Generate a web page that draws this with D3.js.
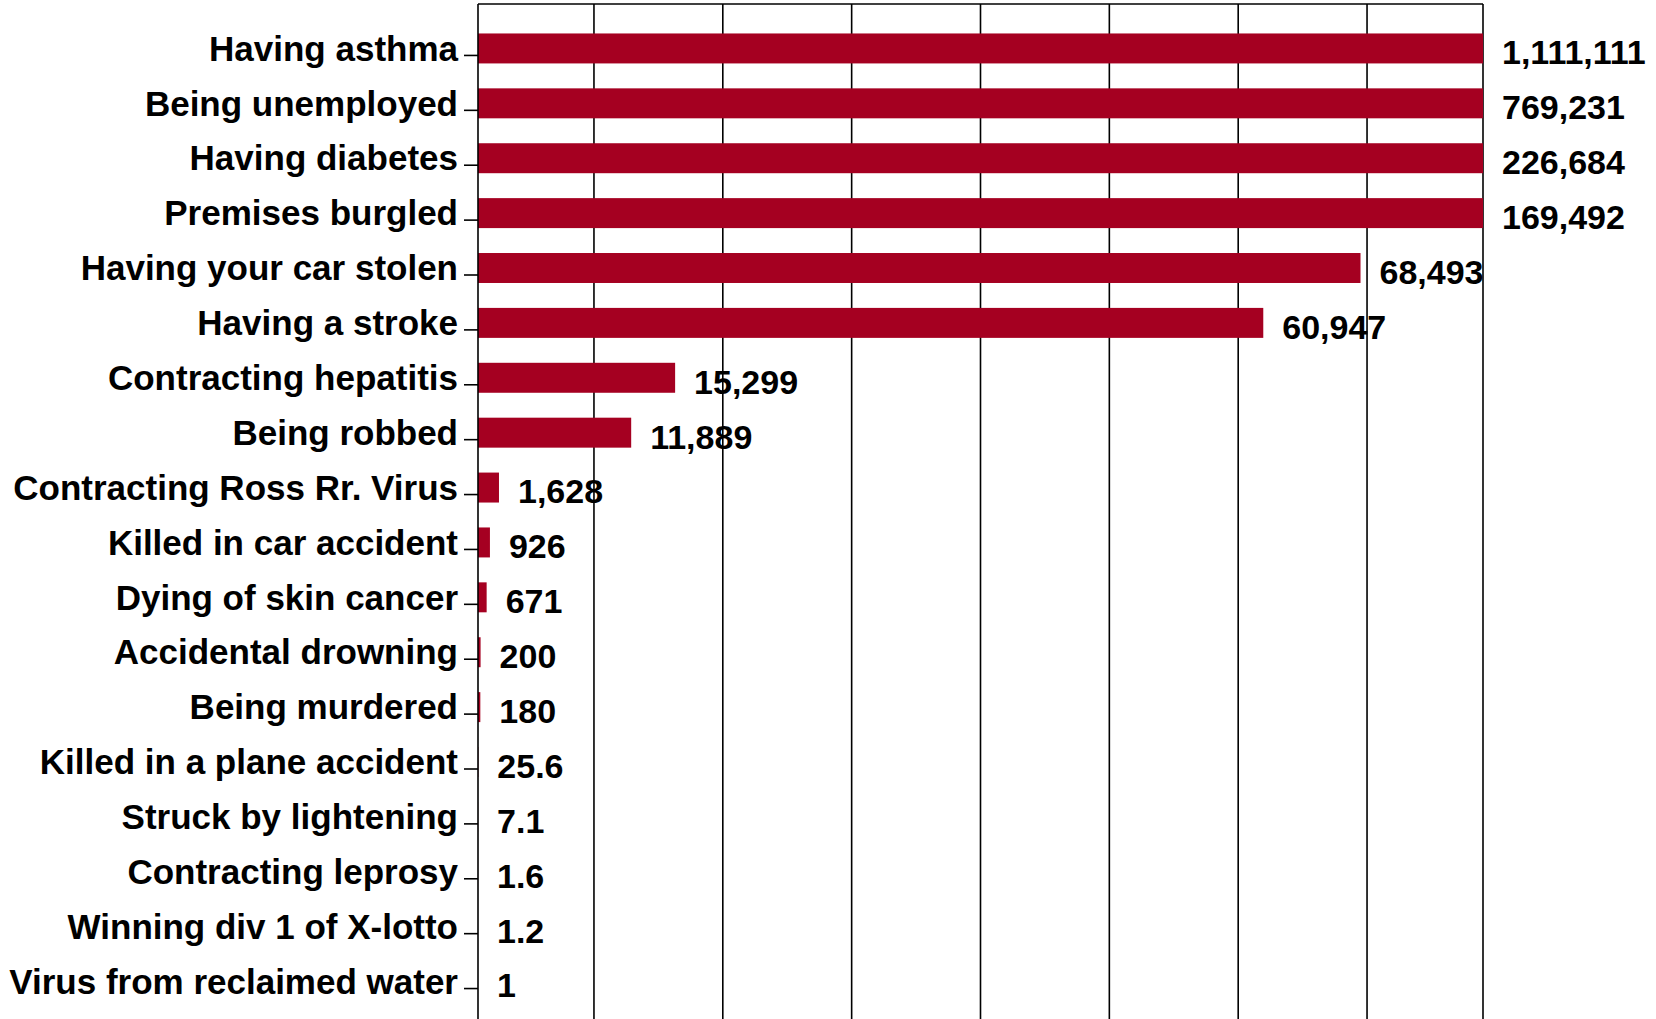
<!DOCTYPE html>
<html>
<head>
<meta charset="utf-8">
<script src="https://cdn.jsdelivr.net/npm/d3@7/dist/d3.min.js"></script>
<style>
  html, body { margin: 0; padding: 0; background: #ffffff; overflow: hidden; }
  svg { display: block; }
  text { font-family: "Liberation Sans", Arial, sans-serif; font-weight: bold; fill: #000; }
</style>
</head>
<body>
<svg id="chart" width="1656" height="1019"></svg>
<script>
const categories = [
  "Having asthma",
  "Being unemployed",
  "Having diabetes",
  "Premises burgled",
  "Having your car stolen",
  "Having a stroke",
  "Contracting hepatitis",
  "Being robbed",
  "Contracting Ross Rr. Virus",
  "Killed in car accident",
  "Dying of skin cancer",
  "Accidental drowning",
  "Being murdered",
  "Killed in a plane accident",
  "Struck by lightening",
  "Contracting leprosy",
  "Winning div 1 of X-lotto",
  "Virus from reclaimed water"
];
const values = [1111111, 769231, 226684, 169492, 68493, 60947, 15299, 11889, 1628, 926, 671, 200, 180, 25.6, 7.1, 1.6, 1.2, 1];
const xDomain = [0, 78000];
const gridTicks = [9000, 19000, 29000, 39000, 49000, 59000, 69000];

const W = 1656, H = 1019;
const plot = { left: 478, right: 1483, top: 4, bottom: 1030 };
const svg = d3.select("#chart");

const x = d3.scaleLinear().domain(xDomain).range([plot.left, plot.right]).clamp(true);
const y = d3.scaleBand().domain(categories).range([21, 1009]).paddingInner(0.454).paddingOuter(0.227);

// gridlines
svg.append("g").selectAll("line").data(gridTicks.concat([xDomain[1]])).join("line")
  .attr("x1", d => x(d)).attr("x2", d => x(d))
  .attr("y1", plot.top).attr("y2", plot.bottom)
  .attr("stroke", "#000").attr("stroke-width", 1.6);

// top border
svg.append("line")
  .attr("x1", plot.left).attr("x2", plot.right)
  .attr("y1", plot.top).attr("y2", plot.top)
  .attr("stroke", "#000").attr("stroke-width", 1.6);

// bars
svg.append("g").selectAll("rect").data(values).join("rect")
  .attr("x", x(0))
  .attr("y", (d, i) => y(categories[i]))
  .attr("width", d => x(d) - x(0))
  .attr("height", y.bandwidth())
  .attr("fill", "#A50021");

// axis line
svg.append("line")
  .attr("x1", plot.left).attr("x2", plot.left)
  .attr("y1", plot.top).attr("y2", plot.bottom)
  .attr("stroke", "#000").attr("stroke-width", 1.6);

// tick marks
svg.append("g").selectAll("line").data(categories).join("line")
  .attr("x1", plot.left - 14).attr("x2", plot.left)
  .attr("y1", d => y(d) + y.bandwidth() / 2 + 7)
  .attr("y2", d => y(d) + y.bandwidth() / 2 + 7)
  .attr("stroke", "#000").attr("stroke-width", 1.6);

// category labels
svg.append("g").selectAll("text").data(categories).join("text")
  .attr("x", plot.left - 20)
  .attr("y", d => y(d) + y.bandwidth() / 2)
  .attr("dy", "0.35em")
  .attr("text-anchor", "end")
  .attr("font-size", 35)
  .text(d => d);

// value labels
const fmt = d3.format(",");
svg.append("g").selectAll("text").data(values).join("text")
  .attr("x", d => x(d) + 19)
  .attr("y", (d, i) => y(categories[i]) + y.bandwidth() / 2 + 4)
  .attr("dy", "0.35em")
  .attr("text-anchor", "start")
  .attr("font-size", 34)
  .text(d => fmt(d));
</script>
</body>
</html>
